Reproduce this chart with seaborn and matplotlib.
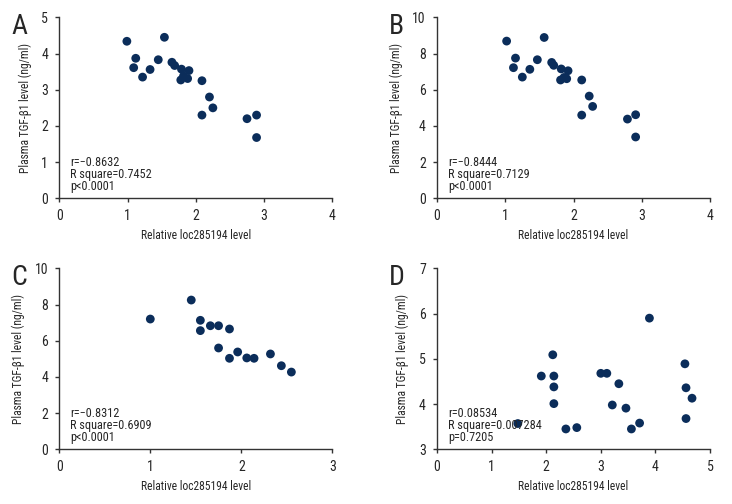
import numpy as np
import pandas as pd
import matplotlib
matplotlib.use("Agg")
import matplotlib.pyplot as plt
from matplotlib import font_manager
import seaborn as sns

# Panel A: loc285194 vs TGF-b1
a_x = [0.99, 1.54, 1.12, 1.09, 1.22, 1.33, 1.45, 1.65, 1.69, 1.79, 1.90, 1.88,
       1.78, 1.82, 2.09, 2.20, 2.25, 2.09, 2.75, 2.89, 2.89]
a_y = [4.34, 4.45, 3.87, 3.61, 3.35, 3.56, 3.83, 3.76, 3.67, 3.57, 3.53, 3.31,
       3.27, 3.38, 3.25, 2.80, 2.50, 2.30, 2.20, 2.30, 1.68]

# Panel B
b_x = [1.02, 1.57, 1.15, 1.12, 1.25, 1.36, 1.47, 1.68, 1.71, 1.82, 1.92, 1.81,
       1.86, 1.90, 2.12, 2.23, 2.28, 2.12, 2.79, 2.91, 2.91]
b_y = [8.69, 8.89, 7.75, 7.22, 6.70, 7.13, 7.66, 7.51, 7.35, 7.15, 7.05, 6.54,
       6.68, 6.61, 6.54, 5.65, 5.08, 4.60, 4.38, 4.62, 3.39]

# Panel C
c_x = [1.00, 1.45, 1.55, 1.55, 1.66, 1.75, 1.87, 1.75, 1.87, 1.96, 2.06, 2.14,
       2.32, 2.44, 2.55]
c_y = [7.20, 8.25, 7.13, 6.56, 6.83, 6.83, 6.65, 5.60, 5.03, 5.38, 5.05, 5.03,
       5.27, 4.62, 4.27]

# Panel D
d_x = [1.48, 1.91, 2.12, 2.14, 2.14, 2.14, 2.36, 2.56, 3.00, 3.11, 3.33, 3.21,
       3.46, 3.56, 3.71, 3.89, 4.54, 4.56, 4.67, 4.56]
d_y = [3.57, 4.62, 5.09, 4.62, 4.38, 4.01, 3.45, 3.48, 4.68, 4.68, 4.45, 3.98,
       3.91, 3.45, 3.58, 5.90, 4.89, 4.36, 4.13, 3.68]

panels = [
    ("A", a_x, a_y, (0, 4), [0, 1, 2, 3, 4], (0, 5), [0, 1, 2, 3, 4, 5],
     ["r=\u22120.8632", "R square=0.7452", "p<0.0001"]),
    ("B", b_x, b_y, (0, 4), [0, 1, 2, 3, 4], (0, 10), [0, 2, 4, 6, 8, 10],
     ["r=\u22120.8444", "R square=0.7129", "p<0.0001"]),
    ("C", c_x, c_y, (0, 3), [0, 1, 2, 3], (0, 10), [0, 2, 4, 6, 8, 10],
     ["r=\u22120.8312", "R square=0.6909", "p<0.0001"]),
    ("D", d_x, d_y, (0, 5), [0, 1, 2, 3, 4, 5], (3, 7), [3, 4, 5, 6, 7],
     ["r=0.08534", "R square=0.007284", "p=0.7205"]),
]

sns.set_style("white")
# a condensed face if one is installed, else DejaVu
installed = {f.name for f in font_manager.fontManager.ttflist}
candidates = ["Liberation Sans Narrow", "DejaVu Sans Condensed", "Roboto Condensed",
              "Open Sans Condensed", "Noto Sans Condensed"]
family = [f for f in candidates if f in installed] + ["DejaVu Sans"]
plt.rcParams["font.family"] = family
condensed = family[0] != "DejaVu Sans"
fs_tick = 10 if condensed else 8.5
fs_lab = 8.3 if condensed else 7
fs_stat = 8.8 if condensed else 7.5

fig = plt.figure(figsize=(7.32, 5.04), dpi=100)
positions = [(0.081, 0.6065), (0.597, 0.6065), (0.081, 0.1085), (0.597, 0.1085)]
color = "#0b2d5a"

for (letter, xs, ys, xlim, xticks, ylim, yticks, stats), (left, bottom) in zip(panels, positions):
    ax = fig.add_axes([left, bottom, 0.373, 0.359])
    df = pd.DataFrame({"x": xs, "y": ys})
    sns.scatterplot(data=df, x="x", y="y", ax=ax, color=color, s=40,
                    edgecolor="none", clip_on=False)
    ax.set_xlim(*xlim)
    ax.set_ylim(*ylim)
    ax.set_xticks(xticks)
    ax.set_yticks(yticks)
    sns.despine(ax=ax)
    for s in ["left", "bottom"]:
        ax.spines[s].set_color("#333333")
        ax.spines[s].set_linewidth(1.0)
    ax.tick_params(axis="both", direction="out", length=3, width=1,
                   color="#333333", labelsize=fs_tick, pad=5, left=True, bottom=True)
    ax.set_xlabel("Relative loc285194 level", fontsize=fs_lab, labelpad=4)
    ax.set_ylabel("Plasma TGF-\u03b21 level (ng/ml)", fontsize=fs_lab, labelpad=7)
    for i, line in enumerate(stats):
        ax.text(0.04, 0.20 - i * 0.067, line, transform=ax.transAxes,
                fontsize=fs_stat, va="center", ha="left")
    fig.text(left - 0.066, bottom + 0.34, letter, fontsize=20, va="center", ha="left")

plt.savefig("out.png", dpi=100)
plt.close()
